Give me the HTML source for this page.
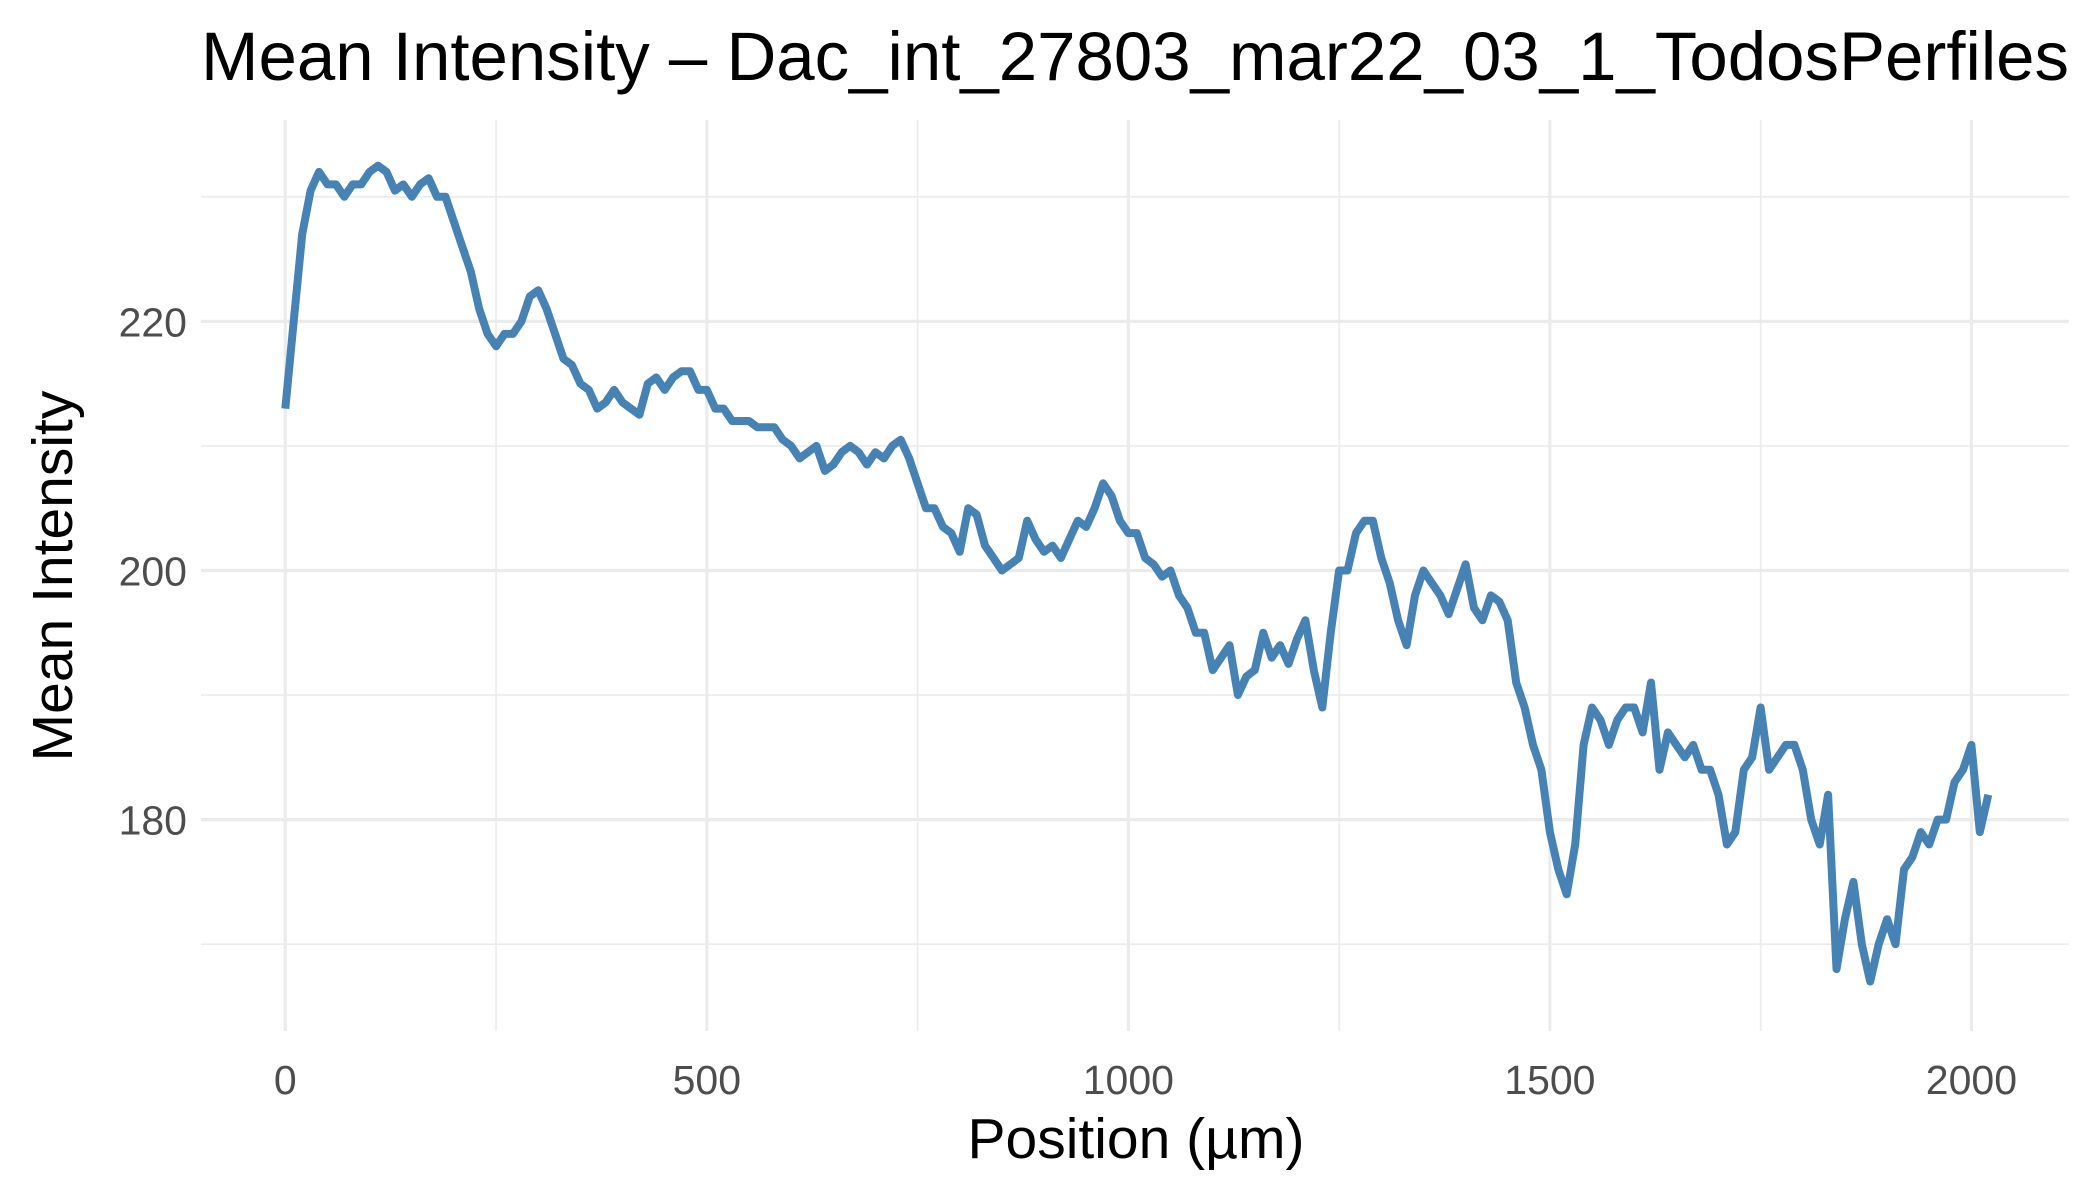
<!DOCTYPE html>
<html><head><meta charset="utf-8"><style>
html,body{margin:0;padding:0;background:#fff;}
svg{display:block;font-family:"Liberation Sans",sans-serif;}
</style></head><body>
<svg id="chart" width="2100" height="1200" viewBox="0 0 2100 1200">
<text x="201" y="80" font-size="69" fill="#000">Mean Intensity – Dac_int_27803_mar22_03_1_TodosPerfiles</text>
<g id="grid"></g>
<g id="ticks"></g>
<path id="line" fill="none" stroke="#4682b4" stroke-width="8" stroke-linejoin="round"/>
<text x="1136" y="1158" font-size="57" text-anchor="middle" fill="#000">Position (µm)</text>
<text transform="translate(72,576) rotate(-90)" font-size="57" text-anchor="middle" fill="#000">Mean Intensity</text>
</svg>
<script>
const positions=[0,10,20,30,40,50,60,70,80,90,100,110,120,130,140,150,160,170,180,190,200,210,220,230,240,250,260,270,280,290,300,310,320,330,340,350,360,370,380,390,400,410,420,430,440,450,460,470,480,490,500,510,520,530,540,550,560,570,580,590,600,610,620,630,640,650,660,670,680,690,700,710,720,730,740,750,760,770,780,790,800,810,820,830,840,850,860,870,880,890,900,910,920,930,940,950,960,970,980,990,1000,1010,1020,1030,1040,1050,1060,1070,1080,1090,1100,1110,1120,1130,1140,1150,1160,1170,1180,1190,1200,1210,1220,1230,1240,1250,1260,1270,1280,1290,1300,1310,1320,1330,1340,1350,1360,1370,1380,1390,1400,1410,1420,1430,1440,1450,1460,1470,1480,1490,1500,1510,1520,1530,1540,1550,1560,1570,1580,1590,1600,1610,1620,1630,1640,1650,1660,1670,1680,1690,1700,1710,1720,1730,1740,1750,1760,1770,1780,1790,1800,1810,1820,1830,1840,1850,1860,1870,1880,1890,1900,1910,1920,1930,1940,1950,1960,1970,1980,1990,2000,2010,2020];
const intensity=[213,220,227,230.5,232,231,231,230,231,231,232,232.5,232,230.5,231,230,231,231.5,230,230,228,226,224,221,219,218,219,219,220,222,222.5,221,219,217,216.5,215,214.5,213,213.5,214.5,213.5,213,212.5,215,215.5,214.5,215.5,216,216,214.5,214.5,213,213,212,212,212,211.5,211.5,211.5,210.5,210,209,209.5,210,208,208.5,209.5,210,209.5,208.5,209.5,209,210,210.5,209,207,205,205,203.5,203,201.5,205,204.5,202,201,200,200.5,201,204,202.5,201.5,202,201,202.5,204,203.5,205,207,206,204,203,203,201,200.5,199.5,200,198,197,195,195,192,193,194,190,191.5,192,195,193,194,192.5,194.5,196,192,189,195,200,200,203,204,204,201,199,196,194,198,200,199,198,196.5,198.5,200.5,197,196,198,197.5,196,191,189,186,184,179,176,174,178,186,189,188,186,188,189,189,187,191,184,187,186,185,186,184,184,182,178,179,184,185,189,184,185,186,186,184,180,178,182,168,172,175,170,167,170,172,170,176,177,179,178,180,180,183,184,186,179,182];
const xTicks=[0,500,1000,1500,2000];
const yTicks=[180,200,220];
const NS="http://www.w3.org/2000/svg";
const L=201,R=2069,T=120,B=1031;
function sx(v){return 285.3+v*(1971.4-285.3)/2000;}
function sy(v){return 570.5-(v-200)*(570.5-321.4)/20;}
const grid=document.getElementById('grid'),ticks=document.getElementById('ticks');
function ln(x1,y1,x2,y2,w){const e=document.createElementNS(NS,'line');e.setAttribute('x1',x1);e.setAttribute('y1',y1);e.setAttribute('x2',x2);e.setAttribute('y2',y2);e.setAttribute('stroke','#ebebeb');e.setAttribute('stroke-width',w);grid.appendChild(e);return e;}
for(const v of [170,190,210,230]){const e=ln(L,sy(v),R,sy(v),1.6);

}
for(const v of [250,750,1250,1750]){const e=ln(sx(v),T,sx(v),B,1.6);

}
for(const v of yTicks){const e=ln(L,sy(v),R,sy(v),3.2);


const t=document.createElementNS(NS,'text');t.setAttribute('x',187);t.setAttribute('y',sy(v)+15);t.setAttribute('text-anchor','end');t.setAttribute('font-size','41');t.setAttribute('fill','#4d4d4d');t.textContent=v;


ticks.appendChild(t);}
for(const v of xTicks){const e=ln(sx(v),T,sx(v),B,3.2);


const t=document.createElementNS(NS,'text');t.setAttribute('x',sx(v));t.setAttribute('y',1094);t.setAttribute('text-anchor','middle');t.setAttribute('font-size','41');t.setAttribute('fill','#4d4d4d');t.textContent=v;


ticks.appendChild(t);}
let d='';positions.forEach((p,i)=>{d+=(i?'L':'M')+sx(p).toFixed(1)+','+sy(intensity[i]).toFixed(1);});
document.getElementById('line').setAttribute('d',d);
</script>
</body></html>
